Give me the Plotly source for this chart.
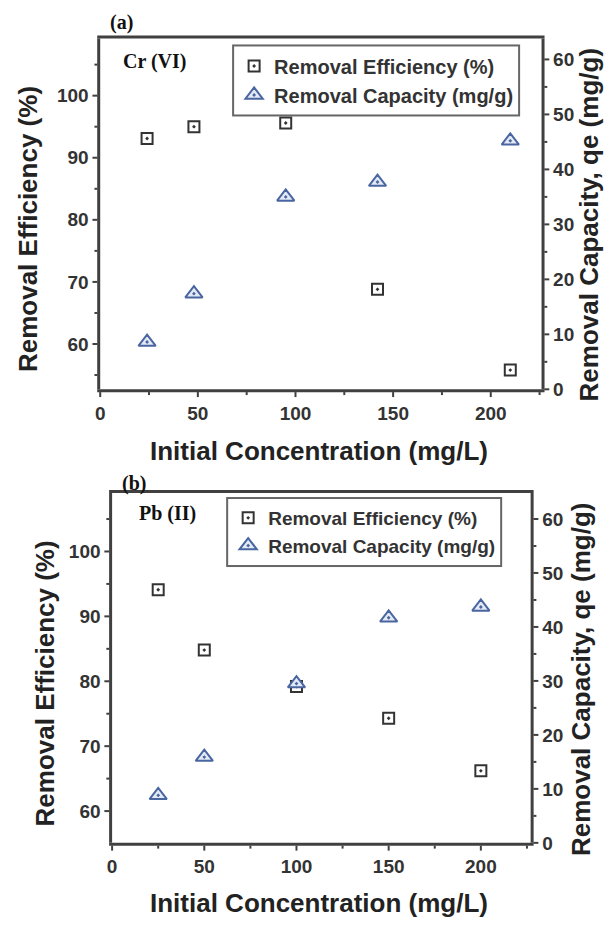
import plotly.graph_objects as go

# Cr(VI) adsorption
cr_conc = [24, 48, 95, 142, 210]
cr_efficiency = [93.1, 95.0, 95.6, 68.8, 55.8]
cr_capacity = [8.6, 17.4, 35.0, 37.7, 45.2]

# Pb(II) adsorption
pb_conc = [25, 50, 100, 150, 200]
pb_efficiency = [94.1, 84.8, 79.2, 74.3, 66.2]
pb_capacity = [8.8, 15.9, 29.5, 41.7, 43.7]

W, H = 606, 926


def px_x(v):
    return v / W


def px_y(v):
    return 1 - v / H


SANS = "Liberation Sans"
SERIF = "Liberation Serif"
AX_COLOR = "#404040"
SQ_COLOR = "#333333"
TRI_COLOR = "#4a66a0"

fig = go.Figure()

sq_marker = dict(symbol="square-open-dot", size=11, color=SQ_COLOR, line=dict(width=2))
tri_marker = dict(symbol="triangle-up-dot", size=15, color="#e3e9f5",
                  line=dict(width=2, color=TRI_COLOR))

# panel (a)
fig.add_trace(go.Scatter(x=cr_conc, y=cr_efficiency, mode="markers",
                         name="Removal Efficiency (%)", xaxis="x", yaxis="y",
                         legend="legend", marker=sq_marker))
fig.add_trace(go.Scatter(x=cr_conc, y=cr_capacity, mode="markers",
                         name="Removal Capacity (mg/g)", xaxis="x", yaxis="y2",
                         legend="legend", marker=tri_marker))

# panel (b)
fig.add_trace(go.Scatter(x=pb_conc, y=pb_efficiency, mode="markers",
                         name="Removal Efficiency (%)", xaxis="x2", yaxis="y3",
                         legend="legend2", marker=sq_marker))
fig.add_trace(go.Scatter(x=pb_conc, y=pb_capacity, mode="markers",
                         name="Removal Capacity (mg/g)", xaxis="x2", yaxis="y4",
                         legend="legend2", marker=tri_marker))

tickfont = dict(family=SANS, size=19, color="#333333", weight="bold")


def axis_style(minor_dtick, **kw):
    base = dict(
        showline=True, linecolor=AX_COLOR, linewidth=2.5,
        ticks="outside", ticklen=5, tickwidth=2, tickcolor=AX_COLOR,
        minor=dict(ticks="outside", ticklen=3, tickwidth=2, tickcolor=AX_COLOR,
                   dtick=minor_dtick),
        showgrid=False, zeroline=False, tickfont=tickfont,
    )
    base.update(kw)
    return base


fig.update_layout(
    width=W, height=H,
    margin=dict(l=0, r=0, t=0, b=0),
    paper_bgcolor="white", plot_bgcolor="white",
    showlegend=True,
    xaxis=axis_style(25, domain=[px_x(96), px_x(541)], range=[0, 226], dtick=50, tick0=0,
                     mirror=True, anchor="y"),
    yaxis=axis_style(5, domain=[px_y(394), px_y(39)], range=[52.7, 109.2], dtick=10, tick0=0,
                     anchor="x"),
    yaxis2=axis_style(5, domain=[px_y(394), px_y(39)], range=[0, 63.8], dtick=10, tick0=0,
                      overlaying="y", side="right", anchor="x"),
    xaxis2=axis_style(25, domain=[px_x(108), px_x(530)], range=[0, 227], dtick=50, tick0=0,
                      mirror=True, anchor="y3"),
    yaxis3=axis_style(5, domain=[px_y(853), px_y(499)], range=[55.1, 109.0], dtick=10, tick0=0,
                      anchor="x2"),
    yaxis4=axis_style(5, domain=[px_y(853), px_y(499)], range=[0, 64.8], dtick=10, tick0=0,
                      overlaying="y3", side="right", anchor="x2"),
    legend=dict(x=px_x(229), y=px_y(45), xanchor="left", yanchor="top",
                bordercolor="#666666", borderwidth=2, bgcolor="white",
                font=dict(family=SANS, size=20, color="#333333", weight="bold"),
                itemwidth=30, tracegroupgap=0),
    legend2=dict(x=px_x(223), y=px_y(503), xanchor="left", yanchor="top",
                 bordercolor="#666666", borderwidth=2, bgcolor="white",
                 font=dict(family=SANS, size=19, color="#333333", weight="bold"),
                 itemwidth=30, tracegroupgap=0),
)

title_font = dict(family=SANS, size=26, color="#222222", weight="bold")
label_font = dict(family=SERIF, size=20, color="#111111", weight="bold")

annotations = [
    # panel labels
    dict(text="(a)", x=px_x(117), y=px_y(23), xanchor="center", yanchor="middle", font=label_font),
    dict(text="Cr (VI)", x=px_x(117), y=px_y(62), xanchor="left", yanchor="middle", font=label_font),
    dict(text="(b)", x=px_x(130), y=px_y(489), xanchor="center", yanchor="middle", font=label_font),
    dict(text="Pb (II)", x=px_x(133), y=px_y(520), xanchor="left", yanchor="middle", font=label_font),
    # axis titles, panel (a)
    dict(text="Initial Concentration (mg/L)", x=px_x(317), y=px_y(456),
         xanchor="center", yanchor="middle", font=title_font),
    dict(text="Removal Efficiency (%)", x=px_x(23), y=px_y(232), textangle=-90,
         xanchor="center", yanchor="middle", font=title_font),
    dict(text="Removal Capacity, qe (mg/g)", x=px_x(589), y=px_y(227), textangle=-90,
         xanchor="center", yanchor="middle", font=title_font),
    # axis titles, panel (b)
    dict(text="Initial Concentration (mg/L)", x=px_x(317), y=px_y(914),
         xanchor="center", yanchor="middle", font=title_font),
    dict(text="Removal Efficiency (%)", x=px_x(40), y=px_y(692), textangle=-90,
         xanchor="center", yanchor="middle", font=title_font),
    dict(text="Removal Capacity, qe (mg/g)", x=px_x(581), y=px_y(687), textangle=-90,
         xanchor="center", yanchor="middle", font=title_font),
]
for a in annotations:
    a.update(xref="paper", yref="paper", showarrow=False)
fig.update_layout(annotations=annotations)

# render axis lines, ticks and legend borders with ordinary anti-aliasing
css_fix = (
    "var s = document.createElement('style');"
    "s.textContent = '.main-svg path, .main-svg rect, .main-svg line "
    "{shape-rendering: geometricPrecision !important; vector-effect: none !important;}';"
    "document.head.appendChild(s);"
)
fig.write_html("out.html", post_script=css_fix)
